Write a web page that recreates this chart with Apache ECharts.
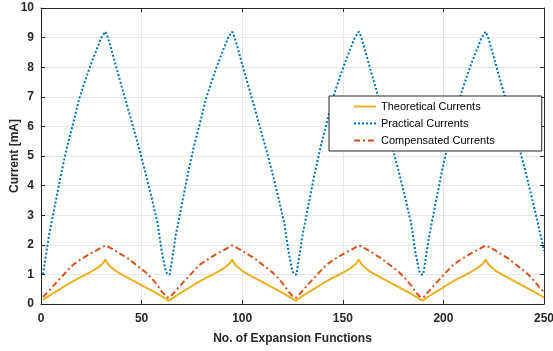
<!DOCTYPE html>
<html>
<head>
<meta charset="utf-8">
<script src="https://cdn.jsdelivr.net/npm/echarts@6/dist/echarts.min.js"></script>
<style>
html,body{margin:0;padding:0;background:#fff;}
#chart{width:553px;height:351px;}
</style>
</head>
<body>
<div id="chart"></div>
<script>
// Data
var seriesNames = ['Theoretical Currents', 'Practical Currents', 'Compensated Currents'];
var xTickLabels = [0, 50, 100, 150, 200, 250];
var yTickLabels = [0, 1, 2, 3, 4, 5, 6, 7, 8, 9, 10];

var xValues = [
  1, 4, 7, 10, 13, 16, 19, 22, 25, 28, 30, 31, 32,
  33, 34, 37, 40, 43, 46, 49, 52, 55, 58, 60, 62, 63,
  64, 67, 70, 73, 76, 79, 82, 85, 88, 91, 93, 94, 95,
  96, 97, 100, 103, 106, 109, 112, 115, 118, 121, 123, 125, 126,
  127, 130, 133, 136, 139, 142, 145, 148, 151, 154, 156, 157, 158,
  159, 160, 163, 166, 169, 172, 175, 178, 181, 184, 186, 188, 189,
  190, 193, 196, 199, 202, 205, 208, 211, 214, 217, 219, 220, 221,
  222, 223, 226, 229, 232, 235, 238, 241, 244, 247, 250
];

var theoretical = [
  0.15, 0.28, 0.40, 0.53, 0.65, 0.77, 0.88, 0.98, 1.09, 1.22, 1.32, 1.40, 1.50,
  1.38, 1.29, 1.12, 1.00, 0.89, 0.78, 0.67, 0.56, 0.45, 0.34, 0.26, 0.18, 0.13,
  0.13, 0.27, 0.40, 0.52, 0.65, 0.77, 0.88, 0.98, 1.09, 1.22, 1.32, 1.40, 1.50,
  1.38, 1.29, 1.12, 1.00, 0.89, 0.78, 0.67, 0.56, 0.45, 0.34, 0.26, 0.18, 0.13,
  0.13, 0.27, 0.40, 0.52, 0.65, 0.77, 0.88, 0.98, 1.09, 1.22, 1.32, 1.40, 1.50,
  1.38, 1.29, 1.12, 1.00, 0.89, 0.78, 0.67, 0.56, 0.45, 0.34, 0.26, 0.18, 0.13,
  0.13, 0.27, 0.40, 0.52, 0.65, 0.77, 0.88, 0.98, 1.09, 1.22, 1.32, 1.40, 1.50,
  1.38, 1.29, 1.12, 1.00, 0.89, 0.78, 0.67, 0.56, 0.45, 0.34, 0.22
];

var practical = [
  1.00, 2.33, 3.36, 4.40, 5.32, 6.11, 6.94, 7.56, 8.14, 8.66, 9.00, 9.10, 9.20,
  9.05, 8.83, 8.10, 7.38, 6.66, 5.93, 5.20, 4.42, 3.59, 2.71, 1.78, 1.10, 1.00,
  1.00, 2.33, 3.36, 4.40, 5.32, 6.11, 6.94, 7.56, 8.14, 8.66, 9.00, 9.10, 9.20,
  9.05, 8.83, 8.10, 7.38, 6.66, 5.93, 5.20, 4.42, 3.59, 2.71, 1.78, 1.10, 1.00,
  1.00, 2.33, 3.36, 4.40, 5.32, 6.11, 6.94, 7.56, 8.14, 8.66, 9.00, 9.10, 9.20,
  9.05, 8.83, 8.10, 7.38, 6.66, 5.93, 5.20, 4.42, 3.59, 2.71, 1.78, 1.10, 1.00,
  1.00, 2.33, 3.36, 4.40, 5.32, 6.11, 6.94, 7.56, 8.14, 8.66, 9.00, 9.10, 9.20,
  9.05, 8.83, 8.10, 7.38, 6.66, 5.93, 5.20, 4.42, 3.59, 2.71, 1.80
];

var compensated = [
  0.24, 0.45, 0.68, 0.90, 1.12, 1.33, 1.47, 1.60, 1.72, 1.83, 1.90, 1.94, 1.98,
  1.95, 1.91, 1.80, 1.67, 1.55, 1.39, 1.23, 1.07, 0.87, 0.62, 0.42, 0.27, 0.22,
  0.22, 0.45, 0.68, 0.90, 1.12, 1.33, 1.47, 1.60, 1.72, 1.83, 1.90, 1.94, 1.98,
  1.95, 1.91, 1.80, 1.67, 1.55, 1.39, 1.23, 1.07, 0.87, 0.62, 0.42, 0.27, 0.22,
  0.22, 0.45, 0.68, 0.90, 1.12, 1.33, 1.47, 1.60, 1.72, 1.83, 1.90, 1.94, 1.98,
  1.95, 1.91, 1.80, 1.67, 1.55, 1.39, 1.23, 1.07, 0.87, 0.62, 0.42, 0.27, 0.22,
  0.22, 0.45, 0.68, 0.90, 1.12, 1.33, 1.47, 1.60, 1.72, 1.83, 1.90, 1.94, 1.98,
  1.95, 1.91, 1.80, 1.67, 1.55, 1.39, 1.23, 1.07, 0.87, 0.62, 0.40
];

function pairs(ys) {
  return xValues.map(function (x, i) { return [x, ys[i]]; });
}

var FONT = 'Liberation Sans, Arial, Helvetica, sans-serif';
var AXC = '#262626';

var chart = echarts.init(document.getElementById('chart'), null, {renderer: 'canvas'});

var baseX = {
  type: 'value', min: xTickLabels[0], max: xTickLabels[xTickLabels.length - 1], interval: 50,
  axisLine: {show: true, onZero: false, lineStyle: {color: AXC, width: 1}},
  axisTick: {show: true, inside: true, length: 4, lineStyle: {color: AXC}},
  splitLine: {show: false}
};
var baseY = {
  type: 'value', min: yTickLabels[0], max: yTickLabels[yTickLabels.length - 1], interval: 1,
  axisLine: {show: true, onZero: false, lineStyle: {color: AXC, width: 1}},
  axisTick: {show: true, inside: true, length: 4, lineStyle: {color: AXC}},
  splitLine: {show: false}
};

var option = {
  animation: false,
  backgroundColor: '#ffffff',
  grid: {left: 41, right: 9, top: 8, bottom: 47, containLabel: false, outerBoundsMode: 'none'},
  xAxis: [
    Object.assign({}, baseX, {
      position: 'bottom',
      name: 'No. of Expansion Functions',
      nameLocation: 'middle',
      nameGap: 29,
      nameMoveOverlap: false,
      nameTextStyle: {fontFamily: FONT, fontSize: 12, fontWeight: 'bold', color: AXC},
      axisLabel: {show: true, margin: 9, fontFamily: FONT, fontSize: 12, fontWeight: 'bold', color: AXC},
      splitLine: {show: true, lineStyle: {color: '#e6e6e6', width: 1}}
    }),
    Object.assign({}, baseX, {position: 'top', axisLabel: {show: false}})
  ],
  yAxis: [
    Object.assign({}, baseY, {
      position: 'left',
      name: 'Current [mA]',
      nameLocation: 'middle',
      nameGap: 20,
      nameMoveOverlap: false,
      nameTextStyle: {fontFamily: FONT, fontSize: 12, fontWeight: 'bold', color: AXC},
      axisLabel: {show: true, margin: 7, fontFamily: FONT, fontSize: 12, fontWeight: 'bold', color: AXC},
      splitLine: {show: true, lineStyle: {color: '#e6e6e6', width: 1}}
    }),
    Object.assign({}, baseY, {position: 'right', axisLabel: {show: false}})
  ],
  legend: {
    orient: 'vertical',
    left: 329,
    top: 96,
    padding: [5, 47, 5, 24],
    itemGap: 6,
    itemWidth: 22,
    itemHeight: 12,
    backgroundColor: '#ffffff',
    borderColor: AXC,
    borderWidth: 1,
    borderRadius: 0,
    itemStyle: {opacity: 0},
    textStyle: {fontFamily: FONT, fontSize: 11, color: '#000000'},
    data: seriesNames
  },
  series: [
    {
      name: seriesNames[0], type: 'line', xAxisIndex: 0, yAxisIndex: 0,
      data: pairs(theoretical), showSymbol: false, symbol: 'none', z: 3,
      color: '#EDB120',
      lineStyle: {color: '#EDB120', width: 2, type: 'solid'}
    },
    {
      name: seriesNames[1], type: 'line', xAxisIndex: 0, yAxisIndex: 0,
      data: pairs(practical), showSymbol: false, symbol: 'none', z: 2,
      color: '#0072BD',
      lineStyle: {color: '#0072BD', width: 2, type: [2, 2]}
    },
    {
      name: seriesNames[2], type: 'line', xAxisIndex: 0, yAxisIndex: 0,
      data: pairs(compensated), showSymbol: false, symbol: 'none', z: 4,
      color: '#D95319',
      lineStyle: {color: '#D95319', width: 2, type: [6, 3, 2, 3]}
    }
  ]
};
chart.setOption(option);
</script>
</body>
</html>
